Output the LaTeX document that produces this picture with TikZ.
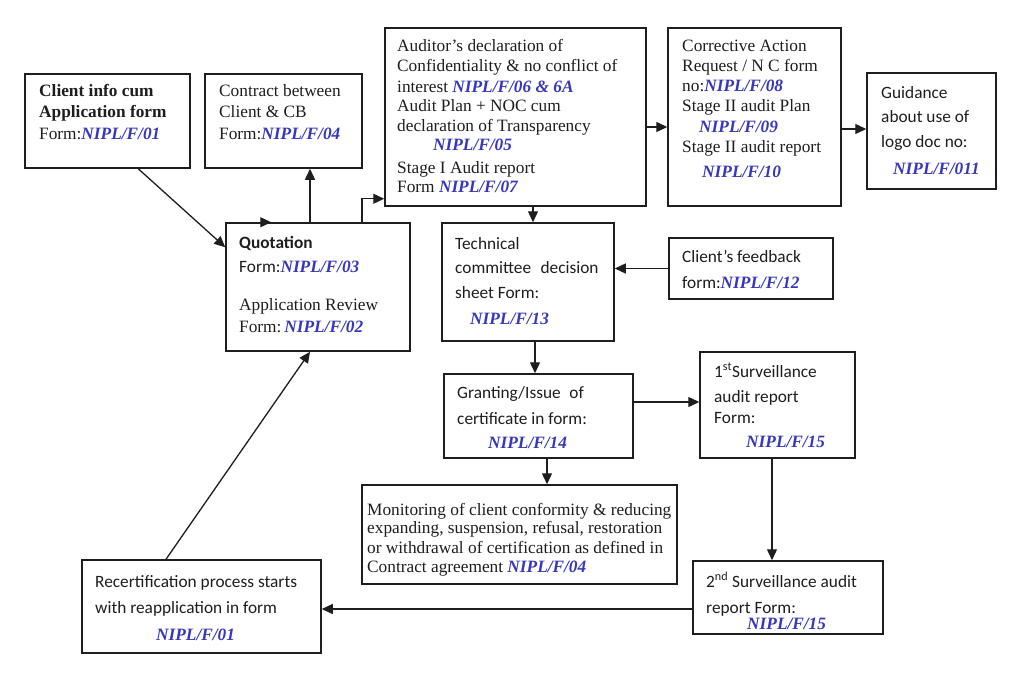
\documentclass[tikz,border=0pt]{standalone}
\usepackage{fontspec}
\setmainfont{Liberation Serif}
\newfontfamily\cf{Carlito}
\usetikzlibrary{arrows.meta,calc}
\definecolor{codeblue}{RGB}{55,55,190}
\definecolor{ink}{RGB}{30,30,30}
\newcommand{\nipl}[1]{{\color{codeblue}\bfseries\itshape #1}}
\newcommand{\tl}[4]{\node[txt] (#1) at (#2,#3) {#4};}
\begin{document}
\begin{tikzpicture}[x=1pt,y=-1pt,
  box/.style={draw=ink,line width=1.5pt,inner sep=0pt,fill=white},
  txt/.style={anchor=base west,inner sep=0pt,font=\fontsize{17.3}{20}\selectfont,text=ink},
  arr/.style={draw=ink,line width=1.3pt,-{Triangle[length=11pt,width=10pt]}},
  ln/.style={draw=ink,line width=1.3pt}]
\useasboundingbox[fill=white] (0,0) rectangle (1024,695);
% boxes
\node[box,minimum width=165pt,minimum height=94pt] (ci) at (107.5,121) {};
\node[box,minimum width=157pt,minimum height=94pt] (cb) at (283.5,121) {};
\node[box,minimum width=184pt,minimum height=128pt] (qt) at (318,287) {};
\node[box,minimum width=261pt,minimum height=178pt] (ad) at (515.5,117) {};
\node[box,minimum width=173pt,minimum height=178pt] (ca) at (754.5,117) {};
\node[box,minimum width=129pt,minimum height=116pt] (gd) at (931.5,131) {};
\node[box,minimum width=172pt,minimum height=118pt] (tc) at (528,282) {};
\node[box,minimum width=164pt,minimum height=61pt] (fb) at (751,268.5) {};
\node[box,minimum width=189pt,minimum height=84pt] (gr) at (538.5,416) {};
\node[box,minimum width=155pt,minimum height=106pt] (s1) at (777.5,405) {};
\node[box,minimum width=315pt,minimum height=99pt] (mo) at (519.5,534.5) {};
\node[box,minimum width=190pt,minimum height=73pt] (s2) at (788,597.5) {};
\node[box,minimum width=239pt,minimum height=93pt] (rc) at (201.5,606.5) {};
% texts
\tl{ci1}{39}{97}{\bfseries Client info cum}
\tl{ci2}{39}{118}{\bfseries Application form}
\tl{ci3}{39}{140}{Form:\nipl{NIPL/F/01}}
\tl{cb1}{219}{97}{Contract between}
\tl{cb2}{219}{118}{Client \& CB}
\tl{cb3}{219}{140}{Form:\nipl{NIPL/F/04}}
\tl{ad1}{397}{52}{Auditor’s declaration of}
\tl{ad2}{397}{72}{Confidentiality \& no conflict of}
\tl{ad3}{397}{93}{interest \nipl{NIPL/F/06 \& 6A}}
\tl{ad4}{397}{112}{Audit Plan + NOC cum}
\tl{ad5}{397}{132}{declaration of Transparency}
\tl{ad6}{433}{150}{\nipl{NIPL/F/05}}
\tl{ad7}{397}{173}{Stage I Audit report}
\tl{ad8}{397}{193}{Form \nipl{NIPL/F/07}}
\tl{ca1}{682}{52}{Corrective Action}
\tl{ca2}{682}{72}{Request / N C form}
\tl{ca3}{682}{92}{no:\nipl{NIPL/F/08}}
\tl{ca4}{682}{112}{Stage II audit Plan}
\tl{ca5}{699}{133}{\nipl{NIPL/F/09}}
\tl{ca6}{682}{153}{Stage II audit report}
\tl{ca7}{702}{177}{\nipl{NIPL/F/10}}
\tl{gd1}{881}{99}{\cf Guidance}
\tl{gd2}{881}{123}{\cf about use of}
\tl{gd3}{881}{148}{\cf logo doc no:}
\tl{gd4}{893}{175}{\nipl{NIPL/F/011}}
\tl{qt1}{239}{248}{\cf\bfseries Quotation}
\tl{qt2}{239}{272}{{\cf Form:}\nipl{NIPL/F/03}}
\tl{qt3}{239}{310}{Application Review}
\tl{qt4}{239}{332}{Form:\,\nipl{NIPL/F/02}}
\tl{tc1}{455}{249}{\cf Technical}
\tl{tc2}{455}{273}{\cf committee\hspace{0.55em}decision}
\tl{tc3}{455}{298}{\cf sheet Form:}
\tl{tc4}{470}{324}{\nipl{NIPL/F/13}}
\tl{fb1}{682}{262}{\cf Client’s feedback}
\tl{fb2}{682}{288}{{\cf form:}\nipl{NIPL/F/12}}
\tl{gr1}{457}{398}{\cf Granting/Issue\hspace{0.5em}of}
\tl{gr2}{457}{424}{\cf certificate in form:}
\tl{gr3}{488}{448}{\nipl{NIPL/F/14}}
\tl{sa1}{714}{377}{\cf 1\textsuperscript{st}Surveillance}
\tl{sa2}{714}{402}{\cf audit report}
\tl{sa3}{714}{423}{\cf Form:}
\tl{sa4}{746}{447}{\nipl{NIPL/F/15}}
\tl{mo1}{367}{515}{Monitoring of client conformity \& reducing}
\tl{mo2}{367}{533}{expanding, suspension, refusal, restoration}
\tl{mo3}{367}{553}{or withdrawal of certification as defined in}
\tl{mo4}{367}{572}{Contract agreement \nipl{NIPL/F/04}}
\tl{sb1}{706}{587}{\cf 2\textsuperscript{nd} Surveillance audit}
\tl{sb2}{706}{613}{\cf report Form:}
\tl{sb3}{747}{629}{\nipl{NIPL/F/15}}
\tl{rc1}{95}{587}{\cf Recertification process starts}
\tl{rc2}{95}{613}{\cf with reapplication in form}
\tl{rc3}{156}{640}{\nipl{NIPL/F/01}}
% connectors
\draw[arr] ($(ci.south west)+(114,0)$) -- ($(qt.north west)+(0,25)$);
\draw[arr] (qt.north west) -- ([xshift=46pt]qt.north west);
\draw[arr] ([xshift=-8pt]qt.north) -- ([xshift=-8pt]qt.north |- cb.south);
\draw[arr] ([xshift=44pt]qt.north) |- ([yshift=8pt]ad.south west);
\draw[arr] ([yshift=-10pt]ad.east) -- ([yshift=-10pt]ca.west);
\draw[arr] ([yshift=-12pt]ca.east) -- ([yshift=-12pt]ca.east -| gd.west);
\draw[arr] ([xshift=17.5pt]ad.south) -- ([xshift=17.5pt]ad.south |- tc.north);
\draw[arr] (fb.west) -- (fb.west -| tc.east);
\draw[arr] ([xshift=7pt]tc.south) -- ([xshift=7pt]tc.south |- gr.north);
\draw[arr] ([yshift=14pt]gr.east) -- ([yshift=14pt]gr.east -| s1.west);
\draw[arr] ([xshift=8.5pt]gr.south) -- ([xshift=8.5pt]gr.south |- mo.north);
\draw[arr] ([xshift=-5.5pt]s1.south) -- ([xshift=-5.5pt]s1.south |- s2.north);
\draw[arr] ([yshift=-11.5pt]s2.west) -- ([yshift=-11.5pt]s2.west -| rc.east);
\draw[arr] ([xshift=-35.5pt]rc.north) -- ([xshift=-8pt]qt.south);
\end{tikzpicture}
\end{document}
